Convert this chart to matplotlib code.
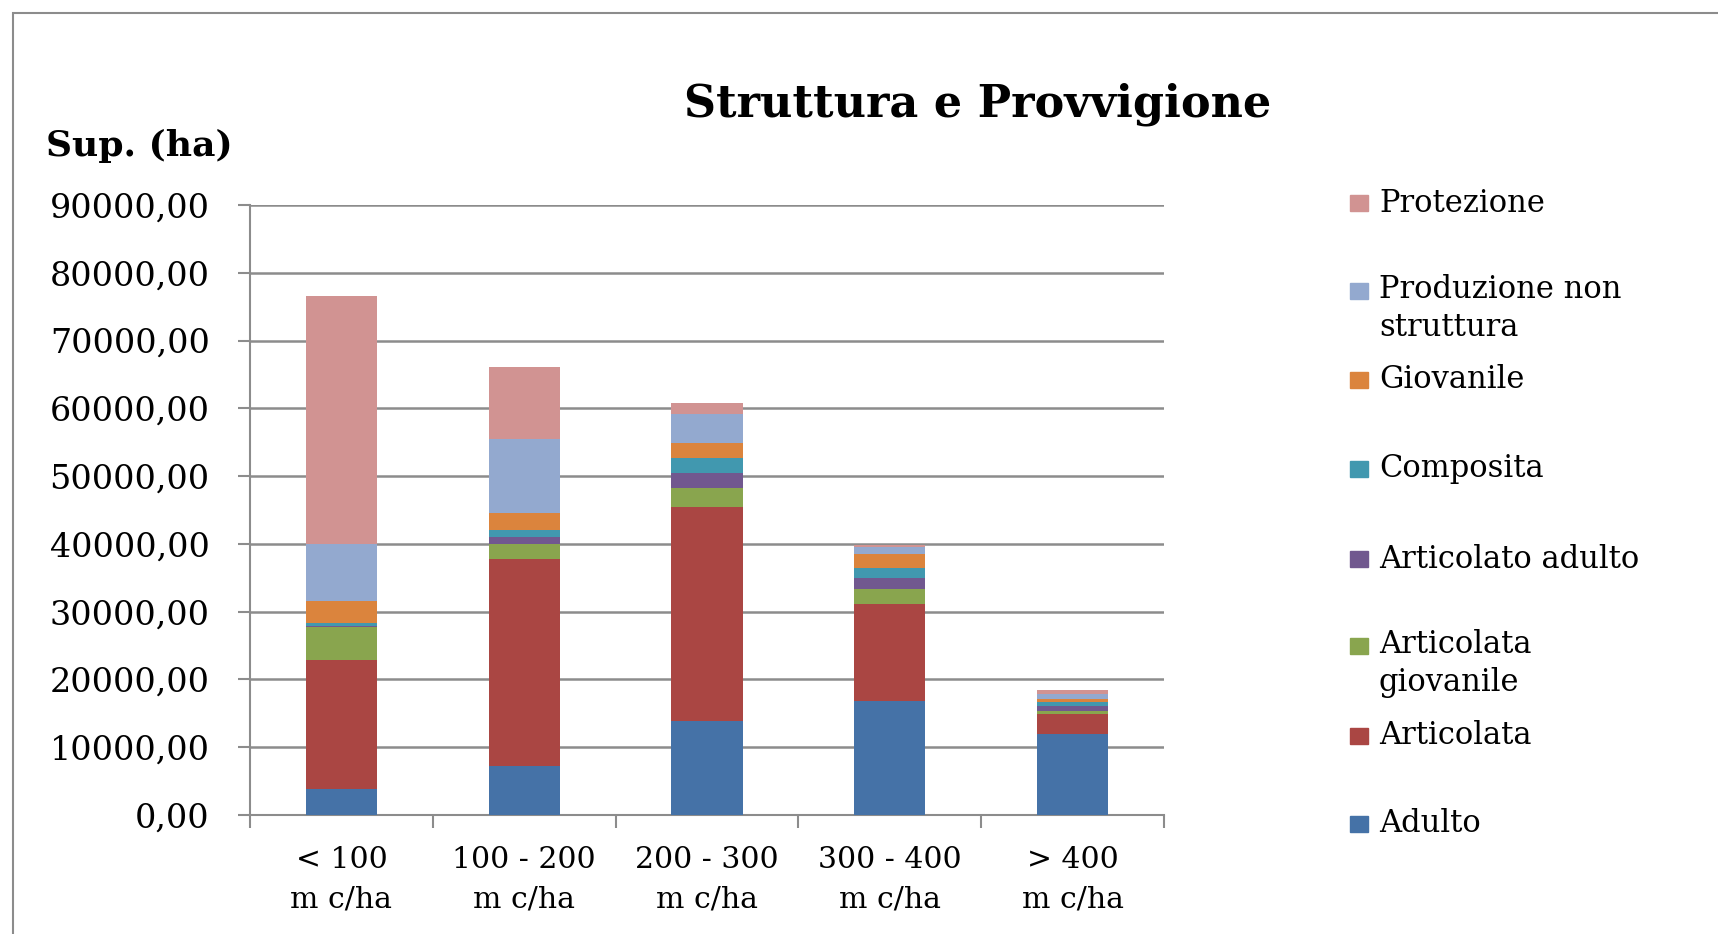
import matplotlib
matplotlib.use("Agg")
import matplotlib.pyplot as plt
from matplotlib.patches import Rectangle
import numpy as np

categories = ["< 100\nm c/ha", "100 - 200\nm c/ha", "200 - 300\nm c/ha",
              "300 - 400\nm c/ha", "> 400\nm c/ha"]

series_names = ["Adulto", "Articolata", "Articolata\ngiovanile", "Articolato adulto",
                "Composita", "Giovanile", "Produzione non\nstruttura", "Protezione"]

adulto = [3800, 7300, 13800, 16800, 11900]
articolata = [19000, 30400, 31700, 14400, 3000]
articolata_giovanile = [5000, 2300, 2700, 2100, 500]
articolato_adulto = [100, 1000, 2300, 1600, 700]
composita = [400, 1000, 2100, 1600, 500]
giovanile = [3300, 2500, 2300, 2000, 500]
produzione_non_struttura = [8400, 11000, 4300, 1100, 800]
protezione = [36600, 10600, 1600, 200, 500]

series_values = [adulto, articolata, articolata_giovanile, articolato_adulto,
                 composita, giovanile, produzione_non_struttura, protezione]

colors = ["#4572A7", "#AA4643", "#89A54E", "#71588F",
          "#4198AF", "#DB843D", "#93A9CF", "#D19392"]

yticks = np.arange(0, 90001, 10000)

serif = ["DejaVu Serif"]

fig = plt.figure(figsize=(17.18, 9.34), dpi=100)
W, H = 1718, 934

# outer frame
fig.patches.append(Rectangle((13 / W, -0.05), 1.2, (H - 13) / H + 0.05,
                             transform=fig.transFigure, fill=False,
                             edgecolor="#8c8c8c", linewidth=1.5))

ax = fig.add_axes([250 / W, 119 / H, 914 / W, 610 / H])
x = np.arange(len(categories))
bottom = np.zeros(len(categories))
for vals, col in zip(series_values, colors):
    ax.bar(x, vals, width=0.39, bottom=bottom, color=col, zorder=3, linewidth=0)
    bottom += np.array(vals)

ax.set_xlim(-0.5, len(categories) - 0.5)
ax.set_ylim(0, 90000)
ax.set_yticks(yticks)
ax.set_yticklabels([f"{v:.2f}".replace(".", ",") for v in yticks],
                   fontfamily=serif, fontsize=24)
ax.yaxis.grid(True, color="#8c8c8c", linewidth=1.8, zorder=0)
ax.set_axisbelow(True)

ax.set_xticks(np.arange(-0.5, len(categories), 1.0))
ax.set_xticklabels([])
ax.set_xticks(x, minor=True)
ax.set_xticklabels(categories, minor=True, fontfamily=serif, fontsize=21.5,
                   linespacing=1.55)
ax.tick_params(axis="x", which="minor", length=0, pad=22)
ax.tick_params(axis="x", which="major", length=9, width=1.5, color="#8c8c8c", direction="out")
ax.tick_params(axis="y", length=9, width=1.5, color="#8c8c8c", pad=20)

for s in ["top", "right"]:
    ax.spines[s].set_visible(False)
for s in ["left", "bottom"]:
    ax.spines[s].set_color("#8c8c8c")
    ax.spines[s].set_linewidth(1.5)

fig.text(978 / W, 1 - 104 / H, "Struttura e Provvigione", fontfamily=serif,
         fontweight="bold", fontsize=32, ha="center", va="center")
fig.text(46 / W, 1 - 146 / H, "Sup. (ha)", fontfamily=serif, fontweight="bold",
         fontsize=26, ha="left", va="center")

# legend (top to bottom: reversed series order)
legend_y = [203, 291, 380, 469, 559, 646, 736, 824]
for name, col, yy in zip(series_names[::-1], colors[::-1], legend_y):
    fig.patches.append(Rectangle((1350 / W, 1 - (yy + 8) / H), 18 / W, 16 / H,
                                 transform=fig.transFigure, color=col))
    if "\n" in name:
        fig.text(1379 / W, 1 - (yy - 17) / H, name, fontfamily=serif, fontsize=22,
                 ha="left", va="top", linespacing=1.3)
    else:
        fig.text(1379 / W, 1 - yy / H, name, fontfamily=serif, fontsize=22,
                 ha="left", va="center")

fig.savefig("out.png", dpi=100)
